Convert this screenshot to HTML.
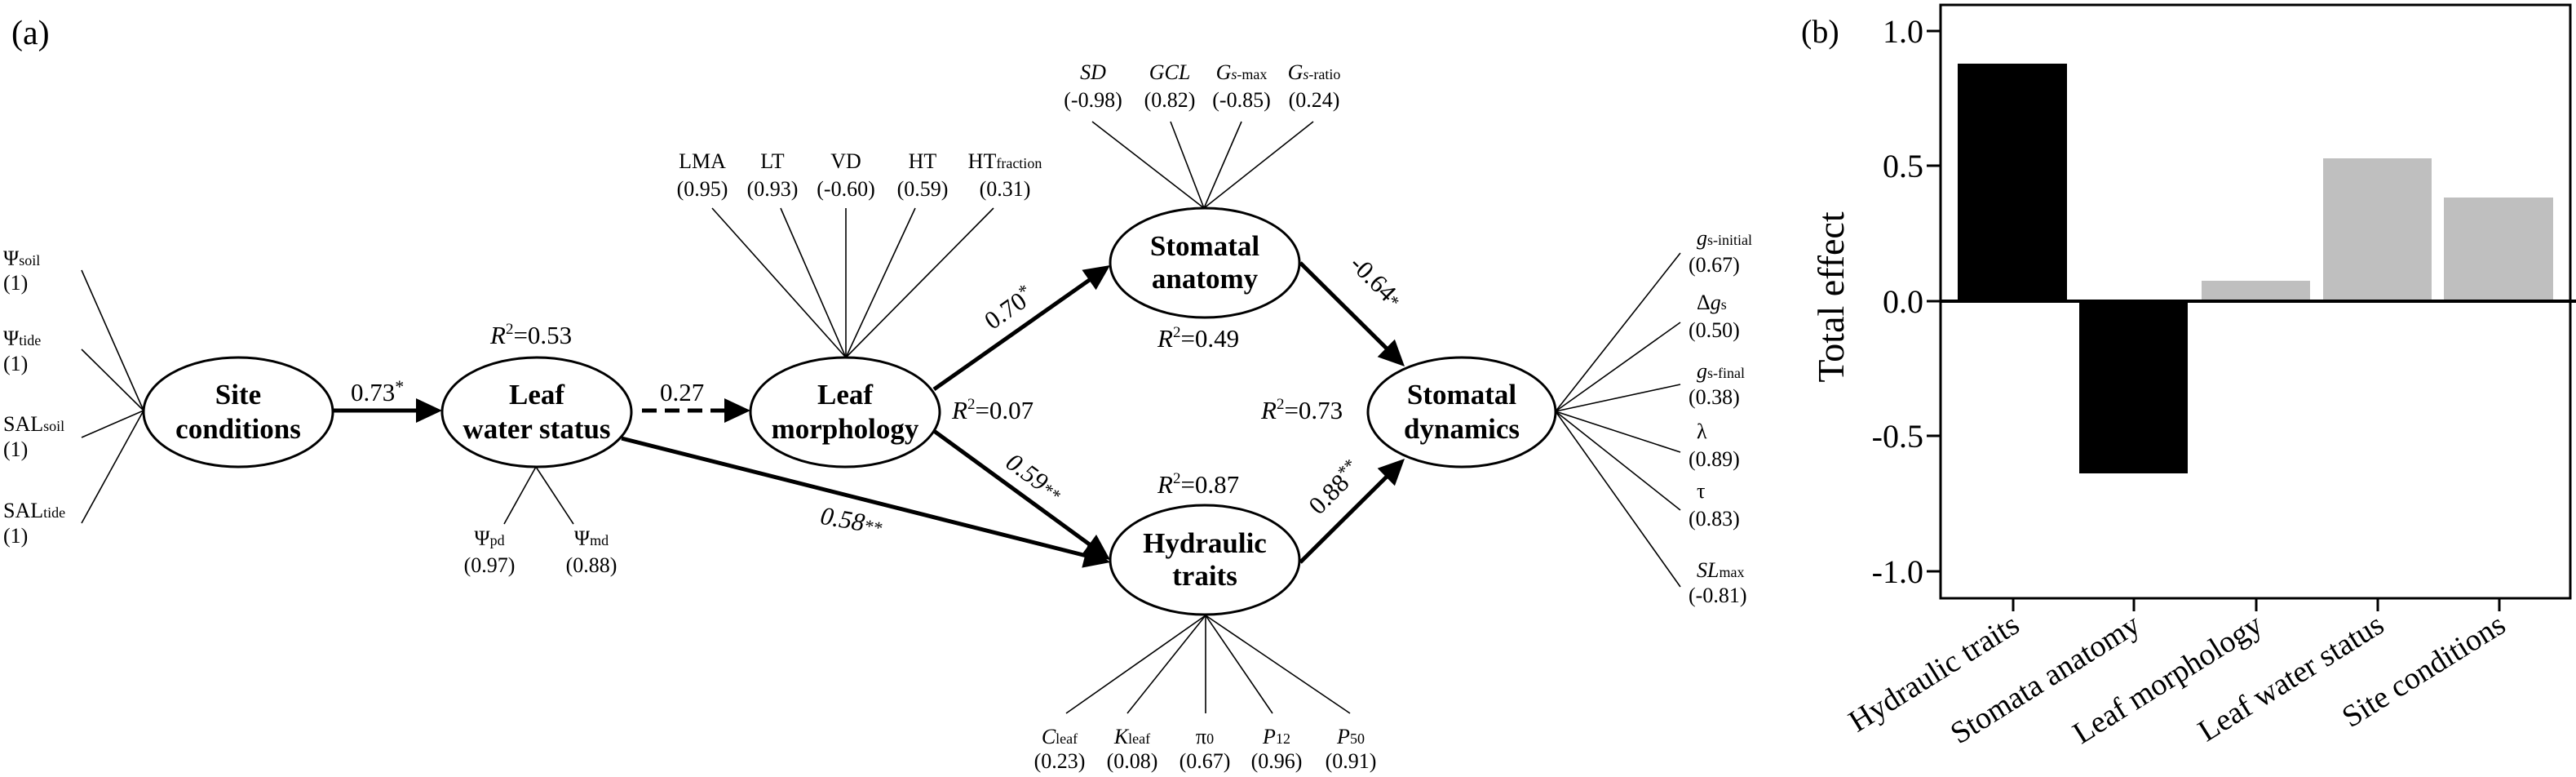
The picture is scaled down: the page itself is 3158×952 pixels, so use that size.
<!DOCTYPE html>
<html><head><meta charset="utf-8"><style>
html,body{margin:0;padding:0;background:#fff;}
svg{display:block;font-family:"Liberation Serif",serif;}
</style></head><body>
<svg width="3158" height="952" viewBox="0 0 3158 952" xmlns="http://www.w3.org/2000/svg">
<rect width="3158" height="952" fill="#fff"/>
<text x="14" y="54" font-size="42">(a)</text>

<!-- indicator lines -->
<g stroke="#000" stroke-width="1.6" fill="none">
<line x1="100" y1="331" x2="176" y2="503"/><line x1="100" y1="428" x2="176" y2="503"/>
<line x1="100" y1="536" x2="176" y2="503"/><line x1="100" y1="641" x2="176" y2="503"/>
<line x1="618" y1="642" x2="657" y2="572"/><line x1="703" y1="642" x2="657" y2="572"/>
<line x1="873" y1="255" x2="1037" y2="438"/><line x1="957" y1="255" x2="1037" y2="438"/>
<line x1="1037" y1="255" x2="1037" y2="438"/><line x1="1122" y1="255" x2="1037" y2="438"/>
<line x1="1218" y1="255" x2="1037" y2="438"/>
<line x1="1339" y1="149" x2="1476" y2="255"/><line x1="1435" y1="149" x2="1476" y2="255"/>
<line x1="1522" y1="149" x2="1476" y2="255"/><line x1="1610" y1="149" x2="1476" y2="255"/>
<line x1="1307" y1="874" x2="1478" y2="754"/><line x1="1382" y1="874" x2="1478" y2="754"/>
<line x1="1478" y1="874" x2="1478" y2="754"/><line x1="1560" y1="874" x2="1478" y2="754"/>
<line x1="1655" y1="874" x2="1478" y2="754"/>
<line x1="2060" y1="310" x2="1907" y2="504"/><line x1="2060" y1="395" x2="1907" y2="504"/>
<line x1="2060" y1="471" x2="1907" y2="504"/><line x1="2060" y1="554" x2="1907" y2="504"/>
<line x1="2060" y1="625" x2="1907" y2="504"/><line x1="2060" y1="719" x2="1907" y2="504"/>
</g>

<!-- ellipses -->
<g fill="#fff" stroke="#000" stroke-width="3">
<ellipse cx="292" cy="505" rx="116" ry="67"/>
<ellipse cx="658" cy="505" rx="116" ry="67"/>
<ellipse cx="1036" cy="505" rx="116" ry="67"/>
<ellipse cx="1477" cy="322" rx="116" ry="67"/>
<ellipse cx="1477" cy="686" rx="116" ry="67"/>
<ellipse cx="1792" cy="505" rx="115" ry="67"/>
</g>
<g font-size="35" font-weight="bold" text-anchor="middle">
<text x="292" y="495">Site</text><text x="292" y="537">conditions</text>
<text x="658" y="495">Leaf</text><text x="658" y="537">water status</text>
<text x="1036" y="495">Leaf</text><text x="1036" y="537">morphology</text>
<text x="1477" y="313">Stomatal</text><text x="1477" y="353">anatomy</text>
<text x="1477" y="677">Hydraulic</text><text x="1477" y="717">traits</text>
<text x="1792" y="495">Stomatal</text><text x="1792" y="537">dynamics</text>
</g>

<!-- structural arrows -->
<g stroke="#000" stroke-width="5" fill="none">
<line x1="408" y1="503" x2="512" y2="503"/>
<line x1="787" y1="503" x2="890" y2="503" stroke-dasharray="18,10"/>
<line x1="1145" y1="477" x2="1337" y2="342"/>
<line x1="1145" y1="528" x2="1337" y2="668"/>
<line x1="762" y1="537" x2="1332" y2="681"/>
<line x1="1594" y1="322" x2="1701" y2="428"/>
<line x1="1594" y1="689" x2="1701" y2="583"/>
</g>
<g fill="#000">
<polygon points="542,503 510,488 510,518"/>
<polygon points="920,503 888,488 888,518"/>
<polygon points="1361,325 1326.4,330.7 1343.6,355.3"/>
<polygon points="1361,686 1326.3,679.2 1344,655"/>
<polygon points="1361,689 1326.3,695.6 1333.7,666.6"/>
<polygon points="1722,449 1688.7,437.2 1709.9,415.8"/>
<polygon points="1722,562 1709.9,595.2 1688.7,573.8"/>
</g>

<!-- path labels -->
<g font-size="31">
<text x="430" y="491">0.73<tspan font-size="22" dy="-10">*</tspan></text>
<text x="809" y="491">0.27</text>
<text x="601" y="421"><tspan font-style="italic">R</tspan><tspan font-size="19" dy="-12">2</tspan><tspan dy="12">=0.53</tspan></text>
<text x="1167" y="513"><tspan font-style="italic">R</tspan><tspan font-size="19" dy="-12">2</tspan><tspan dy="12">=0.07</tspan></text>
<text x="1419" y="425"><tspan font-style="italic">R</tspan><tspan font-size="19" dy="-12">2</tspan><tspan dy="12">=0.49</tspan></text>
<text x="1419" y="604"><tspan font-style="italic">R</tspan><tspan font-size="19" dy="-12">2</tspan><tspan dy="12">=0.87</tspan></text>
<text x="1546" y="513"><tspan font-style="italic">R</tspan><tspan font-size="19" dy="-12">2</tspan><tspan dy="12">=0.73</tspan></text>
<text transform="translate(1243,386) rotate(-35)" text-anchor="middle">0.70<tspan font-size="22" dy="-10">*</tspan></text>
<text transform="translate(1262,593) rotate(36)" text-anchor="middle" font-style="italic">0.59<tspan font-size="22">**</tspan></text>
<text transform="translate(1042,648) rotate(10)" text-anchor="middle" font-style="italic">0.58<tspan font-size="22">**</tspan></text>
<text transform="translate(1680,352) rotate(45)" text-anchor="middle">-0.64<tspan font-size="22">*</tspan></text>
<text transform="translate(1644,605) rotate(-45)" text-anchor="middle">0.88<tspan font-size="22" dy="-10">**</tspan></text>
</g>

<!-- indicator labels -->
<g font-size="26">
<text x="4" y="325">Ψ<tspan font-size="18">soil</tspan></text><text x="4" y="355">(1)</text>
<text x="4" y="423">Ψ<tspan font-size="18">tide</tspan></text><text x="4" y="454">(1)</text>
<text x="4" y="528">SAL<tspan font-size="18">soil</tspan></text><text x="4" y="559">(1)</text>
<text x="4" y="634">SAL<tspan font-size="18">tide</tspan></text><text x="4" y="665">(1)</text>
</g>
<g font-size="26" text-anchor="middle">
<text x="600" y="668">Ψ<tspan font-size="18">pd</tspan></text><text x="600" y="701">(0.97)</text>
<text x="725" y="668">Ψ<tspan font-size="18">md</tspan></text><text x="725" y="701">(0.88)</text>
<text x="861" y="206">LMA</text><text x="861" y="240">(0.95)</text>
<text x="947" y="206">LT</text><text x="947" y="240">(0.93)</text>
<text x="1037" y="206">VD</text><text x="1037" y="240">(-0.60)</text>
<text x="1131" y="206">HT</text><text x="1131" y="240">(0.59)</text>
<text x="1232" y="206">HT<tspan font-size="18">fraction</tspan></text><text x="1232" y="240">(0.31)</text>
<text x="1340" y="97" font-style="italic">SD</text><text x="1340" y="131">(-0.98)</text>
<text x="1434" y="97" font-style="italic">GCL</text><text x="1434" y="131">(0.82)</text>
<text x="1522" y="97"><tspan font-style="italic">G</tspan><tspan font-size="18"><tspan font-style="italic">s</tspan>-max</tspan></text><text x="1522" y="131">(-0.85)</text>
<text x="1611" y="97"><tspan font-style="italic">G</tspan><tspan font-size="18"><tspan font-style="italic">s</tspan>-ratio</tspan></text><text x="1611" y="131">(0.24)</text>
<text x="1299" y="911"><tspan font-style="italic">C</tspan><tspan font-size="18">leaf</tspan></text><text x="1299" y="941">(0.23)</text>
<text x="1388" y="911"><tspan font-style="italic">K</tspan><tspan font-size="18">leaf</tspan></text><text x="1388" y="941">(0.08)</text>
<text x="1477" y="911">π<tspan font-size="18">0</tspan></text><text x="1477" y="941">(0.67)</text>
<text x="1565" y="911"><tspan font-style="italic">P</tspan><tspan font-size="18">12</tspan></text><text x="1565" y="941">(0.96)</text>
<text x="1656" y="911"><tspan font-style="italic">P</tspan><tspan font-size="18">50</tspan></text><text x="1656" y="941">(0.91)</text>
</g>
<g font-size="26">
<text x="2080" y="300"><tspan font-style="italic">g</tspan><tspan font-size="18">s-initial</tspan></text><text x="2070" y="333">(0.67)</text>
<text x="2080" y="379">Δ<tspan font-style="italic">g</tspan><tspan font-size="18">s</tspan></text><text x="2070" y="413">(0.50)</text>
<text x="2080" y="463"><tspan font-style="italic">g</tspan><tspan font-size="18">s-final</tspan></text><text x="2070" y="495">(0.38)</text>
<text x="2080" y="537">λ</text><text x="2070" y="571">(0.89)</text>
<text x="2080" y="610">τ</text><text x="2070" y="644">(0.83)</text>
<text x="2080" y="707"><tspan font-style="italic">SL</tspan><tspan font-size="18">max</tspan></text><text x="2070" y="738">(-0.81)</text>
</g>

<!-- panel b -->
<text x="2208" y="52" font-size="40">(b)</text>
<g fill="#000">
<rect x="2400" y="78" width="134" height="291"/>
<rect x="2549" y="369" width="133" height="211"/>
</g>
<g fill="#bfbfbf">
<rect x="2699" y="344" width="133" height="25"/>
<rect x="2848" y="194" width="133" height="175"/>
<rect x="2996" y="242" width="134" height="127"/>
</g>
<rect x="2379" y="6" width="772" height="727" fill="none" stroke="#000" stroke-width="3"/>
<line x1="2379" y1="369" x2="3158" y2="369" stroke="#000" stroke-width="4"/>
<g stroke="#000" stroke-width="3">
<line x1="2362" y1="38" x2="2379" y2="38"/><line x1="2362" y1="203" x2="2379" y2="203"/>
<line x1="2362" y1="369" x2="2379" y2="369"/><line x1="2362" y1="534" x2="2379" y2="534"/>
<line x1="2362" y1="700" x2="2379" y2="700"/>
<line x1="2468" y1="733" x2="2468" y2="749"/><line x1="2616" y1="733" x2="2616" y2="749"/>
<line x1="2766" y1="733" x2="2766" y2="749"/><line x1="2915" y1="733" x2="2915" y2="749"/>
<line x1="3064" y1="733" x2="3064" y2="749"/>
</g>
<g font-size="40" text-anchor="end">
<text x="2358" y="52">1.0</text><text x="2358" y="217">0.5</text><text x="2358" y="383">0.0</text>
<text x="2358" y="548">-0.5</text><text x="2358" y="714">-1.0</text>
</g>
<text transform="translate(2260,364) rotate(-90)" font-size="46" text-anchor="middle">Total effect</text>
<g font-size="38" text-anchor="end">
<text transform="translate(2478,772) rotate(-32)">Hydraulic traits</text>
<text transform="translate(2626,772) rotate(-32)">Stomata anatomy</text>
<text transform="translate(2776,772) rotate(-32)">Leaf morphology</text>
<text transform="translate(2925,772) rotate(-32)">Leaf water status</text>
<text transform="translate(3074,772) rotate(-32)">Site conditions</text>
</g>
</svg>
</body></html>
